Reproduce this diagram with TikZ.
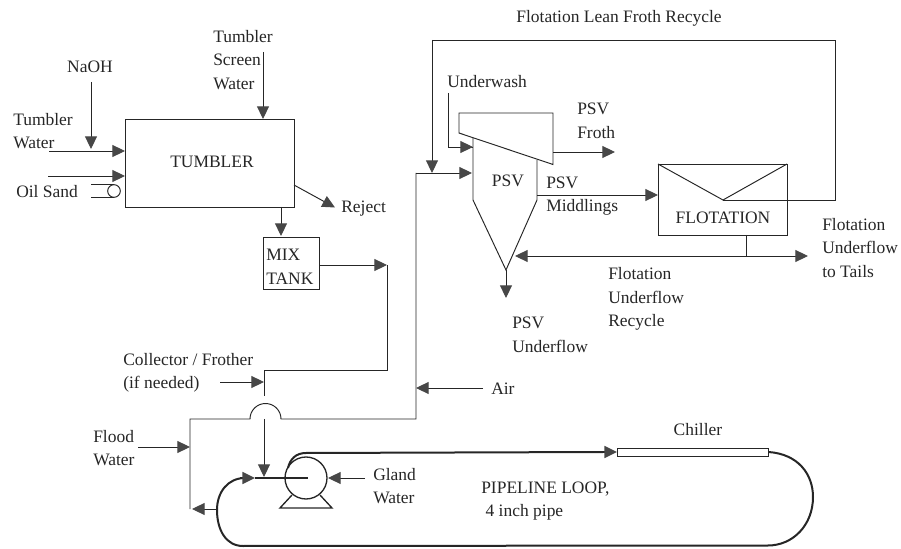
\documentclass[tikz,border=0pt]{standalone}
\usepackage{fontspec}
\setmainfont{Liberation Serif}
\usetikzlibrary{arrows.meta}
\definecolor{ink}{gray}{0.15}
\definecolor{tipc}{gray}{0.28}
\tikzset{
  pipe/.style={draw=ink,line width=0.72pt},
  thick pipe/.style={draw=ink,line width=1.5pt},
  flow/.style={pipe,-{Triangle[length=9.5pt,width=9pt,color=tipc]}},
  bothflow/.style={pipe,{Triangle[length=9.5pt,width=9pt,color=tipc]}-{Triangle[length=9.5pt,width=9pt,color=tipc]}},
  unit/.style={draw=ink,line width=0.72pt,fill=white,inner sep=0pt,minimum width=0pt},
  lbl/.style={anchor=west,inner sep=0pt,align=left,text=black!85,font=\fontsize{13.1}{17.6}\selectfont},
  clbl/.style={lbl,anchor=center,align=center},
}
\begin{document}
\begin{tikzpicture}[x=0.75pt,y=-0.75pt]
\useasboundingbox (0,0) rectangle (901,549);
% units
\node[unit,minimum width=126.75pt,minimum height=66pt] (tumbler) at (209.5,163) {};
\node[clbl] (tumblerL) at (212,162) {TUMBLER};
\node[unit,minimum width=42pt,minimum height=39pt] (mix) at (291,263) {};
\node[lbl] (mixL) at (266,267) {MIX\\TANK};
\node[unit,minimum width=96.75pt,minimum height=53.25pt] (flot) at (722.5,199.5) {};
\node[clbl] (flotL) at (723,218) {FLOTATION};
\node[unit,minimum width=113.25pt,minimum height=6pt] (chiller) at (692.5,452) {};
\node[clbl] (chillerL) at (698,430) {Chiller};
% labels
\node[clbl] (naoh) at (90,67) {NaOH};
\node[lbl] (twater) at (13,131) {Tumbler\\Water};
\node[lbl] (oil) at (16,192) {Oil Sand};
\node[lbl] (screen) at (213,60) {Tumbler\\Screen\\Water};
\node[lbl] (reject) at (341,209) {Reject};
\node[clbl] (lean) at (619,18) {Flotation Lean Froth Recycle};
\node[lbl] (underwash) at (447,82) {Underwash};
\node[lbl] (froth) at (577,121) {PSV\\Froth};
\node[clbl] (psvL) at (508,181) {PSV};
\node[lbl] (midd) at (546,196) {PSV\\Middlings};
\node[lbl] (tails) at (822,248) {Flotation\\Underflow\\to Tails};
\node[lbl] (recycle) at (608,299) {Flotation\\Underflow\\Recycle};
\node[lbl] (psvu) at (512,335) {PSV\\Underflow};
\node[lbl] (coll) at (123,373) {Collector / Frother\\(if needed)};
\node[lbl] (air) at (491,389) {Air};
\node[lbl] (flood) at (93,448) {Flood\\Water};
\node[lbl] (gland) at (373,486) {Gland\\Water};
\node[lbl] (loop) at (481,501) {PIPELINE LOOP,\\\ 4 inch pipe};
% coordinates
\coordinate (a1) at (91,82); \coordinate (a2) at (91,149);
\coordinate (b1) at (49,151); \coordinate (b2) at (125,151);
\coordinate (c1) at (48,176); \coordinate (c2) at (125,176);
\coordinate (d1) at (263,52); \coordinate (d2) at (263,119);
\coordinate (e1) at (294,185); \coordinate (e2) at (335,207.5);
\coordinate (f1) at (281,207); \coordinate (f2) at (281,236);
\coordinate (g1) at (319,265); \coordinate (g2) at (387,265);
\coordinate (g3) at (387,370); \coordinate (g4) at (264,370); \coordinate (g5) at (264,396);
\coordinate (h1) at (220,382); \coordinate (h2) at (264,382);
\coordinate (i1) at (190,509); \coordinate (i2) at (190,419); \coordinate (i3) at (250,419);
\coordinate (i5) at (416,419); \coordinate (i6) at (416,173); \coordinate (i7) at (472,173);
\coordinate (j1) at (138,447); \coordinate (j2) at (190,447);
\coordinate (k1) at (483,388); \coordinate (k2) at (416,388);
\coordinate (l1) at (264,419); \coordinate (l2) at (264,477);
% conveyor
\coordinate (conv) at (114,191);
\draw[pipe] (91,184.5) -- (114,184.5) (91,197.5) -- (114,197.5);
\node[draw=ink,line width=0.72pt,circle,minimum size=9.5pt,inner sep=0pt] (roller) at (conv) {};
% tumbler connectors
\draw[flow] (a1) -- (a2);
\draw[flow] (b1) -- (b2);
\draw[flow] (c1) -- (c2);
\draw[flow] (d1) -- (d2);
\draw[flow] (e1) -- (e2);
\draw[flow] (f1) -- (f2);
\draw[flow] (g1) -- (g2);
\draw[pipe] (g2) -- (g3) -- (g4) -- (g5);
\draw[flow] (h1) -- (h2);
% flood line
\draw[pipe] (i1) -- (i2) -- (i3) arc[start angle=180,end angle=360,radius=15.5] -- (i5) -- (i6);
\draw[flow] (i6) -- (i7);
\draw[flow] (j1) -- (j2);
\draw[flow] (k1) -- (k2);
\draw[flow] (l1) -- (l2);
% PSV
\coordinate (p1) at (473,133); \coordinate (p2) at (473,200); \coordinate (p3) at (506,270); \coordinate (p4) at (537,200); \coordinate (p5) at (537,160);
\draw[pipe] (p1) -- (p2) -- (p3) -- (p4) -- (p5);
\draw[pipe,fill=white] (459,113) -- (553,113) -- (553,164.5) -- (459,133) -- cycle;
\coordinate (u1) at (448,93); \coordinate (u2) at (448,147); \coordinate (u3) at (473,147);
\draw[pipe] (u1) -- (u2) -- (u3);
\draw[flow] (u2) -- (u3);
\coordinate (fr1) at (553,152); \coordinate (fr2) at (615,152);
\draw[flow] (fr1) -- (fr2);
\coordinate (m1) at (537,195); \coordinate (m2) at (658,195);
\draw[flow] (m1) -- (m2);
\coordinate (pu) at (506,298);
\draw[flow] (p3) -- (pu);
% flotation
\coordinate (v1) at (658,164); \coordinate (v2) at (723,200); \coordinate (v3) at (787,164);
\draw[pipe] (v1) -- (v2) -- (v3);
\coordinate (r1) at (835,200); \coordinate (r2) at (835,40); \coordinate (r3) at (432,40); \coordinate (r4) at (432,173);
\draw[pipe] (v2) -- (r1) -- (r2) -- (r3);
\draw[flow] (r3) -- (r4);
\coordinate (t0) at (746,235); \coordinate (t1) at (746,256); \coordinate (t2) at (515,256); \coordinate (t3) at (808,256);
\draw[pipe] (t0) -- (t1);
\draw[bothflow] (t2) -- (t3);
% pump
\coordinate (pc) at (306,478);
\coordinate (b1L) at (292,495); \coordinate (b2L) at (280,508); \coordinate (b3L) at (332,508); \coordinate (b4L) at (320,495);
\draw[pipe,line width=1pt] (b1L) -- (b2L) -- (b3L) -- (b4L);
\node[draw=ink,fill=white,line width=1pt,circle,minimum size=31.5pt,inner sep=0pt] (pump) at (pc) {};
\coordinate (gl1) at (365,478); \coordinate (gl2) at (328,478);
\draw[flow] (gl1) -- (gl2);
% loop
\coordinate (lp2) at (617,452);
\draw[thick pipe] (288,468) .. controls (290,459) and (296,453) .. (306,453) -- (603,452);
\draw[flow,line width=1.3pt] (600,452) -- (lp2);
\coordinate (rc2) at (768,545.5); \coordinate (lc1) at (243,546);
\draw[thick pipe] (chiller.east) .. controls (798,454) and (813,474) .. (813,497) .. controls (813,525) and (793,545.5) .. (rc2) -- (lc1)
  .. controls (226,546) and (217,530) .. (217,510) .. controls (217,492) and (228,478) .. (245,478);
\coordinate (lt) at (255,478); \coordinate (pmid) at (308,478);
\draw[flow,line width=1.3pt] (240,478) -- (lt);
\draw[thick pipe] (lt) -- (pmid);
\coordinate (br) at (217,509); \coordinate (br2) at (192,509);
\draw[flow] (br) -- (br2);
\end{tikzpicture}
\end{document}
